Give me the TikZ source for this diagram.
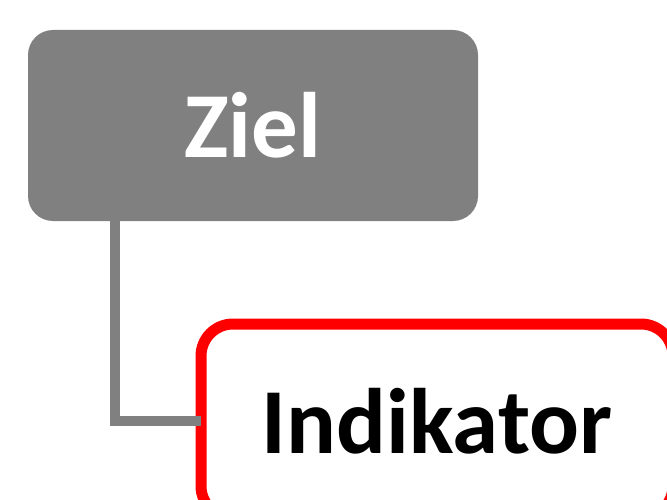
\documentclass[tikz,border=0pt]{standalone}
\usepackage{fontspec}
\setmainfont{Carlito}
\definecolor{boxgray}{RGB}{128,128,128}
\definecolor{boxred}{RGB}{255,0,0}
\begin{document}
\begin{tikzpicture}[x=1pt,y=-1pt,
  goal/.style={draw=none,fill=boxgray,rounded corners=25pt,minimum width=450pt,minimum height=191pt,inner sep=0pt,outer sep=0pt,text=white,font=\fontsize{93}{100}\selectfont\bfseries},
  indic/.style={draw=boxred,line width=11pt,fill=white,rounded corners=32pt,minimum width=472pt,minimum height=194pt,inner sep=0pt,outer sep=0pt,text=black,font=\fontsize{93}{100}\selectfont\bfseries},
  link/.style={draw=boxgray,line width=10pt}]
\useasboundingbox (0,0) rectangle (667,500);
\clip (0,0) rectangle (667,500);
\node[goal] (ziel) at (253,125.5) {Ziel};
\node[indic] (ind) at (437,421) {Indikator};
\coordinate (top) at (115,221);
\draw[link] (top) |- (ind.west);
\end{tikzpicture}
\end{document}
